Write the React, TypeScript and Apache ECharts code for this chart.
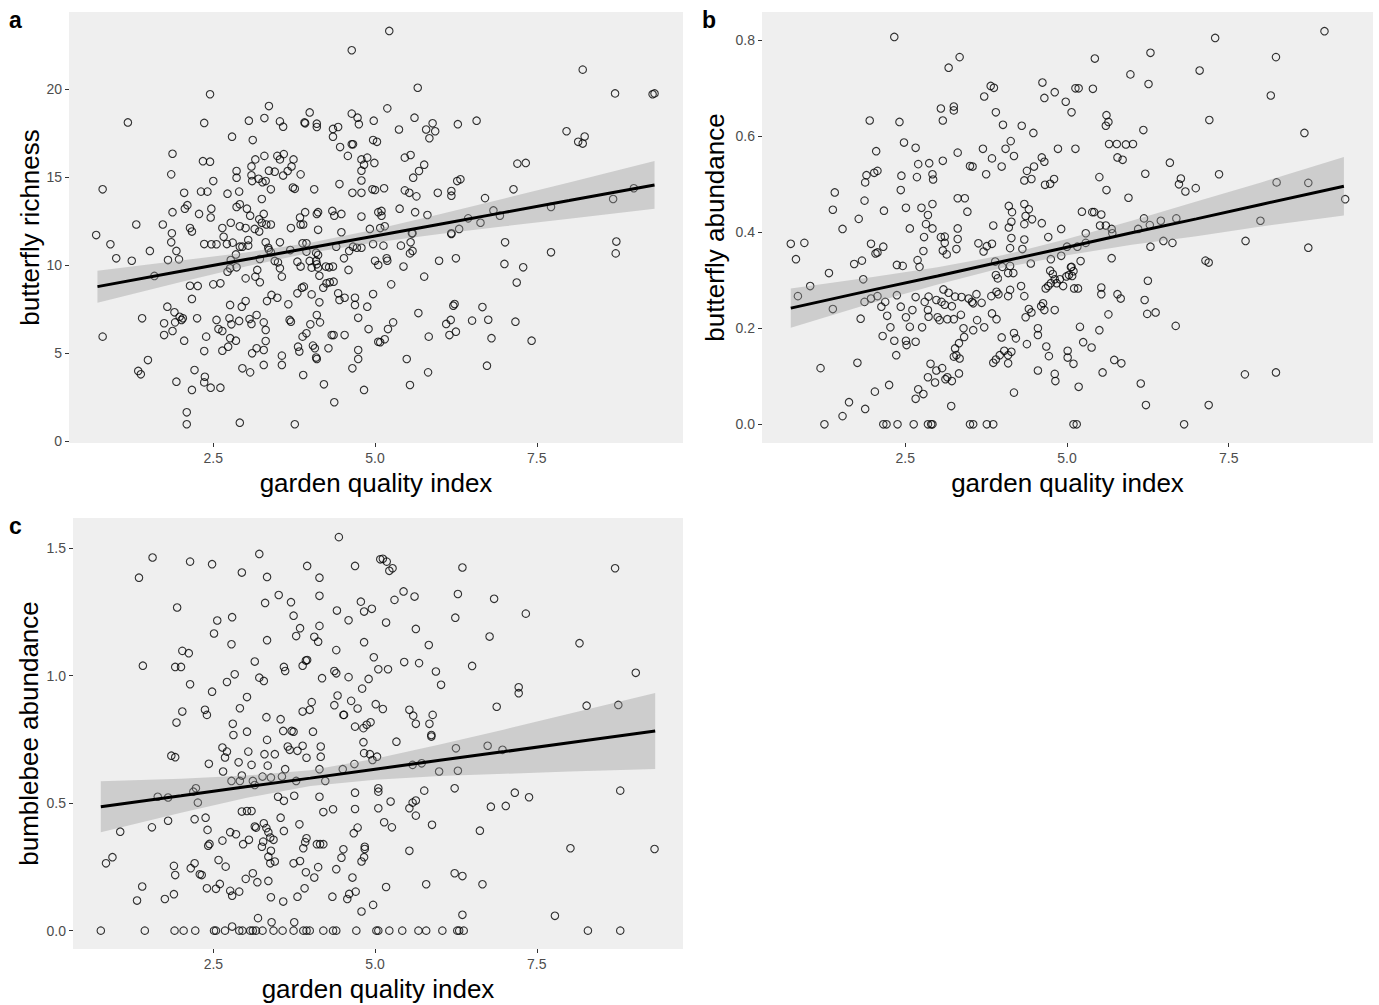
import React, { useEffect, useRef } from "react";
import * as echarts from "echarts";

// ---------------- data ----------------
const xTicks = [2.5, 5, 7.5];
const richnessTicks = [0, 5, 10, 15, 20];
const butterflyAbundanceTicks = [0, 0.2, 0.4, 0.6, 0.8];
const bumblebeeTicks = [0, 0.5, 1.0, 1.5];

// panel a: garden quality index vs butterfly richness
const richnessPoints: [number, number][] = [
  [4.64,22.2],[2.45,19.7],[1.18,18.1],[2.36,18.07],[3.36,19.03],[3.99,18.67],[3.05,18.2],[3.29,18.35],[3.53,18.16],[3.58,17.86],[3.91,18.1],[3.92,18.05],[4.10,18.03],[4.10,17.84],[4.35,17.73],[4.43,17.84],[4.35,17.29],[4.64,18.6],[4.73,18.37],[4.75,18.0],[4.98,18.2],[2.79,17.29],[3.11,17.1],[1.87,16.32],[1.85,15.15],[0.79,14.3],[2.34,15.9],[2.45,15.87],[2.50,14.77],[2.05,14.1],[2.31,14.17],[2.41,14.17],[2.72,14.05],[2.90,14.17],[2.86,15.34],[2.86,14.96],[3.09,15.6],[3.15,16.0],[3.09,15.1],[3.10,14.77],[3.20,14.9],[3.26,14.7],[3.31,14.77],[3.39,14.3],[3.29,16.2],[3.36,15.36],[3.45,15.3],[3.49,16.2],[3.53,16.0],[3.59,16.3],[3.74,16.0],[3.58,15.08],[3.65,15.34],[3.71,15.6],[3.85,15.15],[3.73,14.4],[3.76,14.33],[3.25,13.75],[4.06,14.3],[4.45,14.6],[4.58,16.2],[4.64,16.86],[4.66,16.86],[4.46,16.7],[4.79,16.0],[4.83,15.7],[4.88,16.1],[4.79,15.36],[4.79,14.8],[4.65,14.1],[4.79,14.1],[4.96,14.3],[5.0,14.26],[4.99,15.8],[4.97,17.1],[5.03,17.0],
  [2.91,13.45],[2.86,13.3],[3.02,13.2],[3.07,12.8],[3.21,12.6],[3.28,12.9],[3.25,12.4],[3.32,12.3],[3.39,12.3],
  [2.10,13.4],[2.06,13.2],[1.87,13.0],[2.28,12.9],[2.47,13.2],[2.46,12.7],[1.31,12.3],[1.72,12.3],
  [3.92,13.0],[3.84,12.7],[4.10,12.9],[4.12,13.0],[3.89,12.3],[3.85,12.3],[3.70,12.1],[4.12,12.0],
  [4.34,13.07],[4.37,12.8],[4.48,12.9],[4.79,12.75],[4.92,12.05],[5.05,13.0],
  [2.64,12.1],[2.77,12.4],[2.91,12.2],[3.0,12.1],[3.14,12.05],[3.21,11.9],[2.14,12.1],[2.17,11.9],[1.86,11.8],[0.69,11.7],
  [5.22,23.3],[5.66,20.07],[5.19,18.9],[5.61,18.37],[5.89,18.05],[5.79,17.7],[5.93,17.6],[5.84,17.2],[5.37,17.7],[6.28,18.0],[6.57,18.2],[5.46,16.1],[5.55,16.25],[5.76,15.7],[5.68,15.34],[5.59,14.96],[6.27,14.77],[6.32,14.87],[6.18,14.2],[6.18,13.94],[5.97,14.1],[5.14,14.36],[5.46,14.24],[5.53,14.1],[5.64,13.9],[5.38,13.2],[5.62,13.0],[5.81,12.84],[5.10,13.07],[5.10,12.8],[5.08,12.1],[5.15,12.2],[6.70,13.8],[6.44,12.65],[6.83,13.1],[6.93,12.8],[6.63,12.4],[6.30,12.05],[6.18,11.8],[5.58,11.8],[7.14,14.3],[7.20,15.76],[7.33,15.8],[7.96,17.6],[8.14,17.0],[8.21,16.9],[8.24,17.3],[8.21,21.1],[8.71,19.75],[9.29,19.7],[9.32,19.75],[7.72,13.3],[8.68,13.75],[9.0,14.36],
  [0.91,11.18],[1.0,10.38],[1.24,10.24],[1.52,10.8],[1.85,11.29],[1.93,10.8],[1.80,10.28],[1.97,10.32],[1.59,9.38],
  [2.36,11.19],[2.47,11.18],[2.55,11.18],[2.66,11.6],[2.71,11.19],[2.80,11.27],[2.91,11.04],[2.95,11.04],[3.04,11.1],[3.04,11.42],
  [2.85,10.6],[2.77,10.28],[2.86,9.87],[2.72,9.62],[2.76,9.81],
  [3.0,9.24],[3.15,9.34],[3.22,9.02],[3.18,9.72],[3.22,10.34],[3.31,11.29],[3.35,10.98],[3.36,10.85],[3.39,10.72],
  [3.53,11.29],[3.45,10.23],[3.50,10.15],[3.53,9.81],[3.56,9.34],
  [3.69,10.85],[3.80,10.19],[3.85,9.91],[3.94,10.76],[3.88,11.23],[3.94,11.23],[3.99,10.23],[4.02,9.85],[4.09,10.23],[4.10,10.04],[4.12,9.85],[4.14,9.39],[4.09,10.7],[4.12,10.57],
  [4.24,9.91],[4.29,9.87],[4.35,9.91],[4.20,8.71],[4.25,8.96],[4.30,9.02],[4.36,9.05],[4.40,11.04],[4.52,10.38],[4.59,9.72],[4.60,10.8],[4.66,11.04],[4.72,10.98],[4.79,10.98],[4.97,11.19],[5.0,10.24],[5.05,10.0],[4.48,11.86],
  [2.14,8.82],[2.26,8.81],[2.17,8.07],[2.50,8.9],[2.61,8.96],
  [1.79,7.63],[1.90,7.31],[1.40,6.97],[1.74,6.69],[1.91,6.74],[1.87,6.25],[1.74,6.02],[1.98,7.06],[2.03,6.97],[2.01,6.88],[2.25,6.97],[2.05,5.70],[0.79,5.93],
  [2.76,7.73],[2.94,7.63],[3.0,7.95],[2.55,6.88],[2.75,6.97],[2.78,6.63],[2.90,6.82],[2.58,6.36],[2.64,6.25],[2.39,5.93],[2.36,5.11],[2.76,5.84],[2.85,5.70],[2.73,5.36],[2.64,5.13],
  [3.06,6.93],[3.09,6.65],[3.17,7.16],[3.28,6.74],[3.31,6.31],[3.31,5.68],[3.17,5.27],[3.10,4.98],[3.28,5.17],[3.28,4.32],[2.95,4.13],[3.07,3.90],
  [3.40,8.30],[3.49,8.14],[3.33,7.95],[3.66,7.77],[3.68,6.88],[3.70,6.78],[3.56,4.85],[3.56,4.32],[3.81,5.36],[3.83,5.08],[3.89,3.75],[3.94,6.12],[3.88,5.93],[4.0,6.63],[4.10,7.16],[4.15,6.74],[4.14,7.88],[4.02,8.33],
  [4.04,5.42],[4.07,5.27],[4.09,4.74],[4.10,4.66],[4.28,5.27],[4.33,6.02],[4.36,6.02],[4.53,6.02],[4.21,3.22],[4.37,2.2],[3.76,0.95],[2.91,1.04],[2.09,1.63],[2.09,0.95],[1.93,3.37],[2.17,2.9],[2.21,4.03],[2.37,3.65],[2.36,3.33],[2.46,3.03],[2.61,3.03],[1.34,3.98],[1.38,3.79],[1.49,4.6],
  [4.43,8.39],[4.45,8.01],[4.53,8.14],[4.69,8.14],[4.69,7.73],[4.74,7.0],[4.88,7.63],[4.90,6.36],[4.97,8.35],[5.05,5.64],[4.65,4.13],[4.74,5.17],[4.74,4.66],[4.83,2.9],
  [3.87,8.71],[3.90,8.77],[3.80,8.39],
  [5.13,11.1],[5.18,10.38],[5.19,10.24],[5.40,11.1],[5.44,9.91],[5.54,10.66],[5.58,10.8],[5.55,11.29],[5.57,11.8],
  [6.18,11.76],[5.99,10.24],[6.25,10.38],[5.76,9.34],[5.25,8.9],
  [7.01,11.29],[7.0,10.06],[7.29,9.87],[7.19,9.0],[7.72,10.72],[8.73,11.33],[8.72,10.66],
  [6.21,7.69],[6.23,7.78],[5.67,7.27],[6.10,6.65],[6.17,6.88],[6.15,6.02],[6.25,6.21],[5.83,5.93],[6.50,6.84],[6.66,7.61],[6.75,6.89],[6.80,5.84],[7.17,6.78],[7.42,5.70],[6.73,4.28],[5.82,3.9],[5.54,3.18],[5.49,4.66],[5.28,6.74],[5.20,6.36],[5.15,5.78],[5.08,5.61],
];

// panel b: garden quality index vs butterfly abundance
const butterflyAbundancePoints: [number, number][] = [
  [2.33,0.807],[3.34,0.765],[3.17,0.743],[3.82,0.705],[3.87,0.701],[3.72,0.683],[3.90,0.650],[4.01,0.624],[4.62,0.712],[4.81,0.692],[4.65,0.680],[4.98,0.672],[5.07,0.650],[5.13,0.700],
  [3.05,0.658],[3.25,0.662],[3.25,0.654],[3.08,0.633],[1.95,0.633],[2.41,0.630],
  [4.30,0.622],[4.48,0.607],[4.13,0.590],[4.05,0.574],[4.18,0.559],[3.84,0.554],[3.70,0.574],[3.99,0.537],[4.61,0.556],[4.65,0.547],[4.86,0.574],[5.13,0.574],
  [2.48,0.587],[2.66,0.576],[2.05,0.569],[3.31,0.566],[3.08,0.549],[2.87,0.544],[2.70,0.542],[3.54,0.537],[3.50,0.538],[3.75,0.521],
  [2.07,0.528],[2.02,0.524],[1.90,0.519],[1.88,0.504],[2.44,0.518],[2.68,0.515],[2.92,0.521],[2.93,0.510],[2.43,0.488],[1.87,0.466],[1.41,0.483],[1.38,0.447],[1.78,0.428],[2.17,0.445],[2.51,0.451],[2.75,0.451],[2.85,0.436],[2.92,0.459],[2.82,0.417],[3.31,0.471],[3.42,0.471],[3.46,0.443],[3.31,0.408],[2.92,0.408],[2.57,0.408],[1.53,0.407],
  [4.38,0.528],[4.49,0.537],[4.34,0.508],[4.45,0.511],[4.66,0.499],[4.74,0.501],[4.80,0.511],
  [4.10,0.455],[4.15,0.442],[4.34,0.459],[4.41,0.448],[4.36,0.434],[4.46,0.427],[4.61,0.419],[4.34,0.417],[4.14,0.422],[4.10,0.410],[3.86,0.414],[4.91,0.407],
  [8.98,0.819],[7.29,0.805],[8.23,0.765],[6.29,0.774],[5.43,0.762],[5.98,0.729],[6.26,0.709],[7.05,0.737],[8.15,0.685],
  [5.18,0.700],[5.40,0.699],
  [5.61,0.644],[5.64,0.630],[5.60,0.622],[6.18,0.613],[7.20,0.634],[8.67,0.607],
  [5.65,0.584],[5.77,0.584],[5.91,0.583],[6.02,0.584],[5.78,0.556],[5.86,0.551],[5.50,0.515],[5.61,0.488],[5.95,0.472],[6.21,0.522],[6.59,0.545],[6.76,0.512],[6.73,0.500],[6.83,0.485],[6.99,0.492],[7.35,0.521],[8.24,0.504],[8.73,0.503],[9.30,0.469],[7.99,0.424],
  [5.23,0.443],[5.39,0.442],[5.42,0.442],[5.53,0.437],[5.51,0.414],[5.60,0.414],[6.19,0.429],[6.28,0.415],[6.45,0.424],[6.69,0.429],[6.10,0.407],[5.69,0.407],
  [0.73,0.376],[0.94,0.378],[0.81,0.344],[1.32,0.315],[1.03,0.288],[0.84,0.267],[1.38,0.240],[1.19,0.117],[1.25,0.0],[1.53,0.017],[1.63,0.046],[1.88,0.032],[1.76,0.128],[1.81,0.220],[1.85,0.302],[1.71,0.334],[1.83,0.341],[1.97,0.376],[2.07,0.358],[2.04,0.356],[2.16,0.370],
  [1.87,0.255],[1.97,0.262],[2.07,0.267],[2.19,0.255],[2.13,0.245],[2.22,0.226],[2.27,0.202],[2.15,0.184],[2.37,0.269],[2.43,0.245],[2.51,0.223],[2.57,0.203],[2.76,0.202],[2.61,0.238],[2.66,0.265],[2.37,0.332],[2.46,0.330],[2.69,0.342],[2.72,0.328],[2.78,0.361],[2.79,0.390],[3.11,0.391],[3.05,0.390],[3.14,0.354],[3.08,0.362],[3.11,0.378],[3.31,0.386],[3.29,0.365],
  [2.33,0.174],[2.36,0.144],[2.51,0.174],[2.52,0.165],[2.66,0.172],[2.25,0.082],[2.03,0.068],[2.70,0.073],[2.78,0.063],[2.66,0.053],[2.89,0.126],[2.85,0.098],[2.96,0.087],[2.98,0.112],[3.07,0.117],[3.12,0.094],[3.22,0.090],[3.15,0.098],[3.33,0.106],[3.21,0.038],
  [2.90,0],[2.16,0],[2.21,0],[2.38,0],[2.63,0],[2.85,0],[2.92,0],[3.50,0],[3.55,0],[3.76,0],[3.86,0],
  [2.80,0.255],[2.86,0.266],[2.98,0.259],[3.06,0.255],[3.11,0.249],[3.22,0.246],[3.27,0.266],[3.17,0.274],[3.09,0.281],[2.85,0.238],[2.86,0.224],[3.0,0.223],[3.03,0.217],[3.15,0.219],[3.25,0.219],[3.36,0.228],[3.37,0.265],[3.48,0.262],[3.53,0.255],[3.55,0.252],[3.68,0.253],[3.60,0.271],[3.83,0.267],[3.91,0.276],[3.94,0.271],[4.12,0.280],[4.09,0.267],[3.84,0.231],[3.91,0.219],[3.61,0.217],[3.72,0.202],[3.55,0.196],[3.40,0.200],[3.41,0.182],[3.33,0.169],[3.27,0.158],[3.25,0.141],[3.29,0.144],[3.34,0.137],
  [3.99,0.181],[4.18,0.190],[4.21,0.179],[4.03,0.153],[3.96,0.144],[3.90,0.135],[3.86,0.128],[4.09,0.127],[4.09,0.144],[4.14,0.151],[4.18,0.066],[4.38,0.167],[4.55,0.112],[4.55,0.200],[4.55,0.186],[4.68,0.162],[4.72,0.142],[4.81,0.105],[4.82,0.090],[5.01,0.153],[5.01,0.139],[5.10,0.126],
  [3.63,0.377],[3.71,0.360],[3.76,0.371],[3.84,0.376],[3.89,0.339],[3.90,0.311],[3.93,0.304],[4.14,0.388],[4.12,0.367],[4.34,0.385],[4.31,0.365],[4.44,0.335],[4.71,0.390],[4.75,0.344],[4.91,0.351],[4.74,0.320],[4.78,0.313],[4.81,0.302],[4.84,0.294],[4.89,0.302],[4.94,0.288],[4.75,0.294],[4.71,0.288],[4.67,0.283],[4.63,0.252],[4.60,0.246],[4.65,0.238],[4.81,0.238],[4.41,0.240],[4.45,0.233],[4.36,0.223],[4.34,0.267],[4.29,0.288],[4.09,0.315],[4.17,0.315],[4.12,0.330],[4.0,0.328],[5.07,0.328],[5.03,0.311],[5.11,0.283],[5.08,0.309],
  [5.0,0.370],[5.16,0.370],[5.29,0.398],[5.70,0.398],[5.29,0.378],[6.29,0.370],[6.49,0.382],[6.63,0.378],[5.69,0.346],[5.21,0.340],[5.06,0.327],[5.10,0.319],[4.99,0.308],[5.17,0.283],[5.53,0.285],[5.53,0.271],[5.78,0.271],[5.83,0.262],[6.20,0.259],[6.25,0.299],[6.24,0.230],[6.37,0.233],[5.64,0.229],[6.68,0.205],[5.20,0.203],[5.50,0.196],[5.25,0.171],[5.38,0.160],[5.73,0.134],[5.84,0.127],[5.55,0.108],[5.18,0.078],[6.14,0.085],[6.22,0.040],[5.10,0],[5.15,0],[6.81,0],[7.19,0.040],[7.75,0.104],[8.23,0.108],[7.14,0.341],[7.19,0.337],[7.76,0.382],[8.73,0.368],
];

// panel c: garden quality index vs bumblebee abundance
const bumblebeePoints: [number, number][] = [
  [4.44,1.543],[1.56,1.463],[1.35,1.384],[2.14,1.447],[2.48,1.437],[2.94,1.404],[3.21,1.477],[3.33,1.387],[3.95,1.430],[4.14,1.384],[4.69,1.430],[5.08,1.456],
  [1.94,1.267],[2.56,1.216],[2.79,1.229],[2.51,1.165],[2.78,1.123],[3.33,1.139],[3.30,1.285],[3.51,1.316],[3.70,1.288],[3.74,1.235],[3.84,1.186],[3.78,1.155],[4.14,1.313],[4.14,1.195],[4.06,1.152],[4.12,1.133],[4.41,1.255],[4.59,1.217],[4.78,1.290],[4.83,1.251],[4.95,1.262],[4.83,1.131],[4.40,1.100],[4.98,1.072],[5.05,1.025],
  [1.41,1.039],[1.91,1.034],[2.0,1.034],[2.02,1.097],[2.12,1.088],[2.14,0.966],[2.48,0.937],[2.71,0.975],[2.83,1.005],[3.02,0.916],[3.14,1.055],[3.21,0.992],[3.28,0.979],[3.59,1.034],[3.61,1.018],[3.88,1.039],[3.93,1.059],[3.95,1.061],[4.18,0.990],[4.37,1.018],[4.40,1.009],[4.59,0.994],[4.80,0.949],[4.90,0.987],[5.01,0.888],[4.42,0.922],[4.63,0.901],[4.73,0.871],[4.37,0.884],[4.51,0.846],[4.52,0.846],[4.02,0.896],[3.99,0.866],[3.88,0.859],[3.54,0.829],[3.32,0.837],[2.91,0.872],[2.37,0.866],[2.40,0.846],[2.02,0.859],[1.93,0.816],[2.80,0.811],[2.81,0.767],[3.02,0.780],[3.58,0.783],[3.71,0.783],[3.74,0.780],[4.04,0.780],[4.69,0.800],[4.82,0.794],[4.87,0.807],[4.93,0.817],
  [5.12,1.458],[5.18,1.447],[5.22,1.411],[5.27,1.421],[6.35,1.424],[8.71,1.421],[5.44,1.330],[5.61,1.310],[5.30,1.297],[6.28,1.320],[6.84,1.301],[5.17,1.208],[5.63,1.183],[6.24,1.227],[7.33,1.243],[6.77,1.153],[5.83,1.120],[8.16,1.127],[5.20,1.025],[5.45,1.053],[5.68,1.049],[5.94,1.016],[6.02,0.964],[6.50,1.038],[9.03,1.011],[7.22,0.954],[7.22,0.931],[6.88,0.878],[8.27,0.882],[8.76,0.885],[5.12,0.869],[5.53,0.866],[5.59,0.843],[5.63,0.811],[5.89,0.846],[5.84,0.811],[5.87,0.767],
  [1.85,0.686],[1.91,0.680],[2.43,0.654],[2.65,0.624],[2.64,0.718],[2.71,0.702],[2.68,0.679],[2.89,0.660],[3.09,0.650],[3.04,0.702],[3.29,0.692],[3.33,0.748],[3.34,0.647],[3.45,0.692],[3.26,0.604],[3.39,0.600],[3.56,0.604],[3.61,0.633],[3.65,0.722],[3.68,0.709],[3.80,0.705],[3.88,0.725],[3.94,0.678],[4.16,0.722],[4.16,0.682],[4.14,0.633],[4.23,0.587],[3.78,0.587],[4.50,0.633],[4.68,0.653],[4.82,0.739],[4.83,0.696],[4.92,0.692],[4.96,0.669],[5.03,0.682],[5.05,0.558],[5.05,0.545],
  [1.64,0.525],[1.80,0.522],[2.19,0.545],[2.23,0.558],[2.26,0.502],[2.78,0.587],[2.91,0.587],[2.94,0.608],[3.11,0.587],[3.14,0.571],[3.09,0.469],[3.02,0.469],[2.94,0.467],[3.50,0.525],[3.59,0.509],[3.75,0.529],[4.14,0.525],[4.20,0.465],[4.35,0.476],[4.69,0.541],[4.69,0.477],[5.05,0.480],
  [1.06,0.388],[0.84,0.264],[0.94,0.288],[1.55,0.405],[1.80,0.431],[2.21,0.437],[2.38,0.443],[2.41,0.395],[2.42,0.333],[2.44,0.340],[2.64,0.353],[2.76,0.386],[2.85,0.378],[2.96,0.339],[3.05,0.356],[3.16,0.404],[3.14,0.408],[3.28,0.421],[3.32,0.402],[3.35,0.386],[3.38,0.365],[3.27,0.349],[3.25,0.329],[3.43,0.356],[3.39,0.313],[3.35,0.290],[3.45,0.271],[3.38,0.264],[3.54,0.443],[3.59,0.391],[3.83,0.417],[3.94,0.362],[3.92,0.347],[3.89,0.323],[4.10,0.339],[4.15,0.339],[4.20,0.339],[4.51,0.319],[4.48,0.286],[4.73,0.404],[4.67,0.382],[4.84,0.329],[4.84,0.320],[4.83,0.288],[4.79,0.271],
  [1.89,0.254],[1.91,0.218],[2.15,0.245],[2.21,0.264],[2.29,0.221],[2.32,0.218],[2.58,0.277],[2.69,0.251],[3.11,0.225],[3.0,0.203],[3.18,0.190],[3.35,0.195],[3.74,0.264],[3.84,0.273],[3.93,0.229],[4.12,0.249],[4.06,0.208],[4.40,0.241],[4.65,0.208],[1.40,0.173],[1.32,0.118],[1.75,0.124],[1.89,0.143],[2.40,0.166],[2.54,0.164],[2.60,0.183],[2.76,0.156],[2.79,0.137],[2.90,0.153],[3.39,0.131],[3.58,0.114],[3.80,0.133],[3.91,0.166],[4.34,0.133],[4.57,0.124],[4.60,0.144],[4.70,0.153],[4.79,0.075],[4.97,0.101],
  [3.19,0.049],[3.40,0.033],[3.75,0.033],[2.79,0.016],
  [0.76,0],[1.44,0],[1.90,0],[2.04,0],[2.22,0],[2.51,0],[2.54,0],[2.68,0],[2.90,0],[2.95,0],[3.07,0],[3.11,0],[3.16,0],[3.26,0],[3.43,0],[3.57,0],[3.74,0],[3.89,0],[3.94,0],[3.99,0],[4.20,0],[4.35,0],[4.40,0],[4.71,0],[5.02,0],
  [5.33,0.741],[5.87,0.761],[6.25,0.715],[6.74,0.725],[6.97,0.709],[5.58,0.650],[5.72,0.656],[5.99,0.624],[6.28,0.627],[5.76,0.549],[6.23,0.558],[7.16,0.541],[7.38,0.523],[5.24,0.506],[5.53,0.480],[5.63,0.510],[5.58,0.502],[5.63,0.451],[6.79,0.486],[7.02,0.489],[8.79,0.549],[5.14,0.425],[5.26,0.405],[5.88,0.415],[6.62,0.392],[5.53,0.313],[8.02,0.323],[9.32,0.320],[6.23,0.225],[6.35,0.214],[5.79,0.182],[6.66,0.182],[5.17,0.171],[6.35,0.062],[7.78,0.058],
  [5.05,0],[5.22,0],[5.42,0],[5.67,0],[5.79,0],[6.04,0],[6.27,0],[6.30,0],[6.37,0],[8.29,0],[8.79,0],
];

// fitted lines and confidence ribbons (read at several x positions)
const fitXA = [0.71, 2, 3, 4, 5, 6, 7, 8, 9.32];
const fitA = [8.77, 9.64, 10.31, 10.98, 11.65, 12.32, 12.99, 13.66, 14.55];
const loA = [7.86, 9.03, 9.91, 10.70, 11.28, 11.76, 12.20, 12.63, 13.19];
const hiA = [9.68, 10.25, 10.71, 11.26, 12.02, 12.88, 13.78, 14.69, 15.91];

const fitXB = [0.73, 2, 3, 4, 5, 6, 7, 8, 9.28];
const fitB = [0.242, 0.280, 0.309, 0.339, 0.369, 0.399, 0.428, 0.458, 0.496];
const loB = [0.201, 0.253, 0.291, 0.326, 0.352, 0.374, 0.392, 0.412, 0.435];
const hiB = [0.283, 0.307, 0.327, 0.352, 0.386, 0.424, 0.464, 0.504, 0.557];

const fitXC = [0.76, 2, 3, 4, 5, 6, 7, 8, 9.33];
const fitC = [0.486, 0.529, 0.564, 0.598, 0.633, 0.668, 0.702, 0.737, 0.783];
const loC = [0.386, 0.462, 0.520, 0.567, 0.592, 0.606, 0.615, 0.624, 0.634];
const hiC = [0.586, 0.596, 0.608, 0.629, 0.674, 0.730, 0.789, 0.850, 0.932];

// ---------------- chart ----------------
const FONT = "'Liberation Sans', Arial, Helvetica, sans-serif";

function xAxisCfg(idx: number, min: number, max: number) {
  return {
    type: "value" as const,
    gridIndex: idx,
    min,
    max,
    axisLine: { show: false, onZero: false },
    axisTick: { show: true, length: 4, customValues: xTicks, lineStyle: { color: "#333", width: 1 } },
    axisLabel: {
      customValues: xTicks,
      formatter: (v: number) => v.toFixed(1),
      color: "#4d4d4d",
      fontSize: 14,
      margin: 8,
      fontFamily: FONT,
    },
    splitLine: { show: false },
    name: "garden quality index",
    nameLocation: "middle" as const,
    nameGap: 27,
    nameTextStyle: { fontSize: 26, color: "#000", fontFamily: FONT },
  };
}

function yAxisCfg(idx: number, min: number, max: number, ticks: number[], digits: number, name: string, gap: number) {
  return {
    type: "value" as const,
    gridIndex: idx,
    min,
    max,
    axisLine: { show: false, onZero: false },
    axisTick: { show: true, length: 4, customValues: ticks, lineStyle: { color: "#333", width: 1 } },
    axisLabel: {
      customValues: ticks,
      formatter: (v: number) => v.toFixed(digits),
      color: "#4d4d4d",
      fontSize: 14,
      margin: 7,
      fontFamily: FONT,
    },
    splitLine: { show: false },
    name,
    nameLocation: "middle" as const,
    nameGap: gap,
    nameTextStyle: { fontSize: 26, color: "#000", fontFamily: FONT },
  };
}

function scatterSeries(idx: number, pts: [number, number][]) {
  return {
    type: "scatter" as const,
    xAxisIndex: idx,
    yAxisIndex: idx,
    data: pts,
    symbol: "circle",
    symbolSize: 7.5,
    itemStyle: { color: "rgba(0,0,0,0)", borderColor: "#000", borderWidth: 1.1 },
    z: 2,
    silent: true,
  };
}

function ribbonSeries(idx: number, xs: number[], lo: number[], hi: number[]) {
  return {
    type: "custom" as const,
    xAxisIndex: idx,
    yAxisIndex: idx,
    z: 3,
    silent: true,
    data: [[xs[0], lo[0]]],
    renderItem: (_params: any, api: any) => {
      const points: number[][] = [];
      for (let i = 0; i < xs.length; i++) points.push(api.coord([xs[i], hi[i]]));
      for (let i = xs.length - 1; i >= 0; i--) points.push(api.coord([xs[i], lo[i]]));
      return {
        type: "polygon",
        shape: { points },
        style: { fill: "rgba(150,150,150,0.38)" },
      };
    },
  };
}

function fitSeries(idx: number, xs: number[], ys: number[]) {
  return {
    type: "line" as const,
    xAxisIndex: idx,
    yAxisIndex: idx,
    data: xs.map((x, i) => [x, ys[i]]),
    showSymbol: false,
    lineStyle: { color: "#000", width: 3 },
    z: 4,
    silent: true,
  };
}

export default function App() {
  const ref = useRef<HTMLDivElement>(null);
  useEffect(() => {
    if (!ref.current) return;
    const chart = echarts.init(ref.current, null, { renderer: "svg" });
    const gridStyle = { show: true, backgroundColor: "#efefef", borderWidth: 0 };
    chart.setOption({
      animation: false,
      backgroundColor: "#fff",
      textStyle: { fontFamily: FONT },
      grid: [
        { left: 69, top: 12, width: 614, height: 431, ...gridStyle },
        { left: 762, top: 12, width: 611, height: 431, ...gridStyle },
        { left: 73, top: 518, width: 610, height: 431, ...gridStyle },
      ],
      xAxis: [xAxisCfg(0, 0.27, 9.76), xAxisCfg(1, 0.285, 9.73), xAxisCfg(2, 0.33, 9.76)],
      yAxis: [
        yAxisCfg(0, -0.114, 24.375, richnessTicks, 0, "butterfly richness", 24),
        yAxisCfg(1, -0.039, 0.859, butterflyAbundanceTicks, 1, "butterfly abundance", 34),
        yAxisCfg(2, -0.072, 1.618, bumblebeeTicks, 1, "bumblebee abundance", 31),
      ],
      series: [
        scatterSeries(0, richnessPoints),
        ribbonSeries(0, fitXA, loA, hiA),
        fitSeries(0, fitXA, fitA),
        scatterSeries(1, butterflyAbundancePoints),
        ribbonSeries(1, fitXB, loB, hiB),
        fitSeries(1, fitXB, fitB),
        scatterSeries(2, bumblebeePoints),
        ribbonSeries(2, fitXC, loC, hiC),
        fitSeries(2, fitXC, fitC),
      ],
      graphic: [
        { type: "text", left: 9, top: 8, style: { text: "a", fontSize: 23, fontWeight: "bold", fill: "#000", fontFamily: FONT } },
        { type: "text", left: 702, top: 8, style: { text: "b", fontSize: 23, fontWeight: "bold", fill: "#000", fontFamily: FONT } },
        { type: "text", left: 9, top: 514, style: { text: "c", fontSize: 23, fontWeight: "bold", fill: "#000", fontFamily: FONT } },
      ],
    });
    return () => chart.dispose();
  }, []);
  return (
    <div
      ref={ref}
      style={{ position: "fixed", left: 0, top: 0, width: 1379, height: 1005, background: "#fff" }}
    />
  );
}
